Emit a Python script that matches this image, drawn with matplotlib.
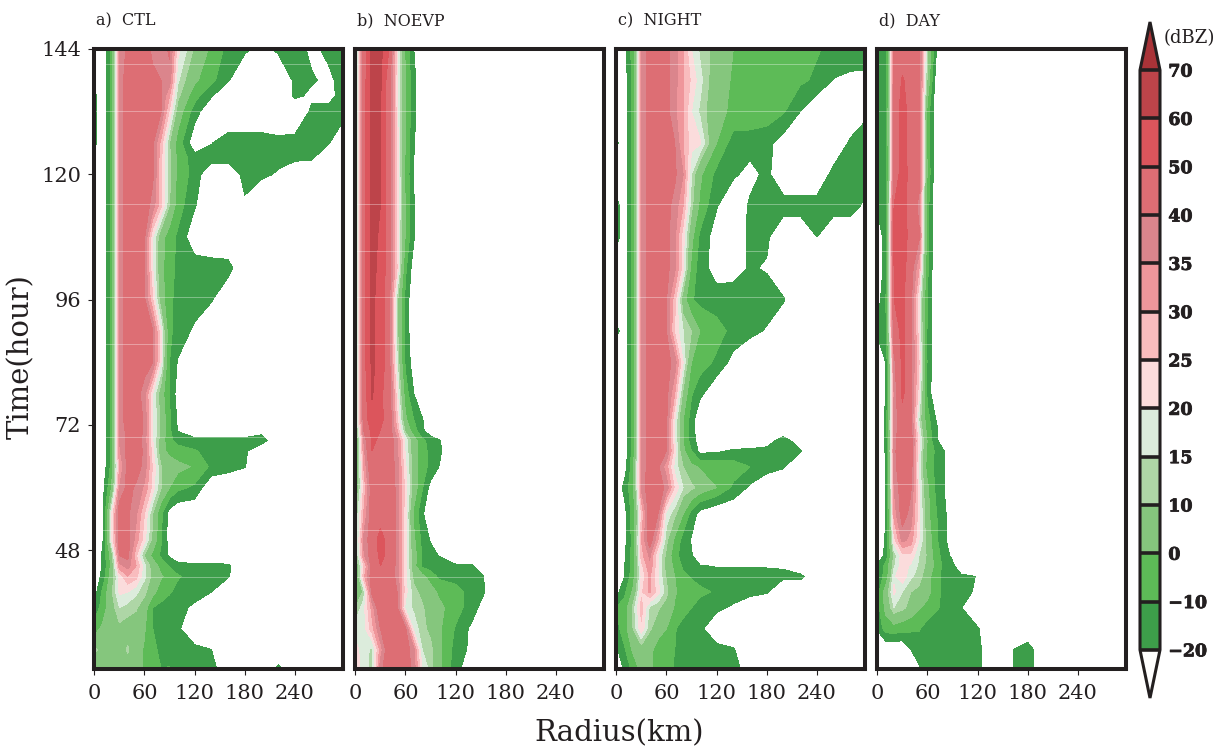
import numpy as np
import matplotlib
matplotlib.use('Agg')
import matplotlib.pyplot as plt
import matplotlib.patheffects as pe
from matplotlib.colors import ListedColormap, BoundaryNorm

W, H = 1222, 749

# dBZ, rows go up in time, short rows are empty further out
radius = [0, 10, 20, 30, 40, 50, 60, 70, 80, 90, 100, 120, 140, 160, 180, 200, 220, 240, 260, 280, 297]
hours = [25.2, 29, 33, 37, 40, 43, 45, 47, 50, 55, 60, 64, 67, 69, 71, 73, 78, 84, 90, 96, 102, 108, 114, 120, 126, 132, 138, 144]
ctl_hours = [25.2, 29, 33, 37, 40, 43, 45, 47, 50, 55, 60, 64, 67, 69, 71, 73, 78, 84, 90, 96, 102, 108, 114, 120, 123, 126, 132, 135, 138, 144]

ctl = [
    [4, 3, 6, -1, 6, 5, -2, -7, -10, -9, -14, -16, -18, -24, -30, -30, -17, -30],
    [12, 7, 5, 5, 11, 4, -1, -6, -14, -15, -16, -17, -20, -30],
    [-5, 2, 5, 8, 6, 5, 1, -10, -14, -15, -18, -30],
    [-18, -5, 6, 15, 13, 11, 5, -10, -13, -15, -17, -22, -30],
    [-25, -8, 8, 21, 20, 16, 12, 3, -5, -9, -13, -16, -20, -30],
    [-30, -16, 4, 22, 30, 27, 16, 8, 1, -3, -9, -14, -16, -19, -30],
    [-30, -19, 2, 33, 37, 30, 17, 6, -4, -11, -15, -17, -17, -18, -30],
    [-30, -18, 3, 40, 42, 26, 9, -3, -12, -22, -30],
    [-30, -22, 18, 43, 42, 33, 22, 8, -9, -25, -30],
    [-30, -22, 18, 44, 41, 36, 25, 10, -8, -25, -30],
    [-30, -24, -2, 35, 42, 39, 34, 23, 10, 0, -7, -12, -30],
    [-18, -28, -8, 30, 42, 43, 38, 24, 10, 6, 3, -1, -12, -16, -19.5, -30],
    [-18, -28, -8, 34, 42, 43, 39, 22, 4, -3, -6, -9, -14, -17, -18, -30],
    [-30, -28, -8, 35, 42, 43, 38, 20, 6, -8, -13, -16, -16, -16, -16, -15, -30],
    [-30, -28, -8, 36, 42, 44, 39, 20, 8, -8, -21, -30, -30, -30, -30, -24, -30],
    [-30, -28, -9, 37, 43, 44, 39, 20, 8, -8, -22, -30],
    [-30, -30, -9, 37, 43, 43, 37, 20, 5, -11, -25, -30],
    [-30, -30, -9, 37, 43, 44, 43, 40, 20, -10, -21, -30],
    [-30, -30, -9, 37, 43, 44, 44, 40, 20, -8, -14, -22, -30],
    [-30, -30, -9, 37, 43, 44, 41, 25, 5, -8, -13, -15, -19, -30],
    [-30, -30, -9, 37, 43, 44, 41, 20, 3, -7, -12, -14, -15, -16, -30],
    [-30, -30, -9, 37, 43, 44, 41, 20, 4, -5, -12, -28, -30],
    [-30, -30, -9, 37, 43, 43, 43, 38, 26, 10, -5, -19, -30, -30, -22, -30],
    [-25, -30, -9, 37, 43, 43, 43, 41, 26, 12, -3, -14, -30, -30, -16, -18, -21, -30],
    [-25, -30, -9, 37, 43, 43, 43, 41, 26, 12, -3, -15, -16, -16, -15, -17, -18, -18, -19, -30],
    [-16, -30, -9, 37, 43, 43, 43, 41, 28, 10, -4, -28, -20.5, -15, -15, -15, -17, -16, -16, -19, -30],
    [-16, -30, -9, 37, 43, 43, 43, 41, 40, 24, 6, -15, -30, -30, -30, -30, -30, -30, -18, -16, -15],
    [-16, -30, -9, 37, 43, 43, 43, 41, 40, 30, 12, -6, -19, -30, -30, -30, -30, -18, -22, -24, -16],
    [-30, -30, -9, 37, 43, 43, 42, 41, 40, 38, 16, 2, -7, -19, -30, -30, -30, -18, -19, -22, -17],
    [-30, -30, -9, 37, 41, 43, 42, 39, 37, 41, 22, 9, -2, -13, -18, -24, -18, -16, -22, -18, -17],
]

noevp = [
    [24, 17, 13, 38, 45, 46, 43, 38, 20, 13, 3, -16, -30],
    [22, 17, 14, 32, 45, 46, 44, 36, 15, 12, 3, -14, -23, -30],
    [18, 18, 28, 40, 46, 46, 41, 18, 12, 8, 2, -11, -23, -30],
    [10, 18, 32, 46, 46, 41, 18, 14, 11, 6, 3, -6, -15, -30],
    [-5, 12, 42, 46, 47, 40, 22, 12, 8, 5, -2, -6, -14, -22, -30],
    [-2, 28, 44, 47, 45, 38, 22, 8, 3, -5, -12, -14, -16, -22, -30],
    [2, 24, 43, 50, 46, 38, 22, 4, -12, -14, -15, -18, -19, -30],
    [6, 34, 44, 52, 48, 38, 22, 5, -11, -16, -20.5, -30],
    [8, 36, 44, 54, 46, 38, 22, 2, -13, -21, -30],
    [8, 30, 44, 45, 46, 38, 22, -2, -18, -30],
    [0, 26, 44, 45, 46, 38, 23, 6, -9, -24, -30],
    [-3, 30, 47, 45, 44, 38, 21, 6, -7, -12, -20, -30],
    [-5, 33, 50, 47, 45, 36, 19, 5, -7, -12, -18, -30],
    [-5, 35, 51, 49, 45, 36, 19, 5, -8, -13, -19, -30],
    [2, 40, 53, 50, 45, 30, 8, -6, -17, -30],
    [6, 43, 57, 52, 46, 26, 2, -10, -19, -30],
    [8, 44, 61, 52, 45, 22, -5, -20, -30],
    [6, 46, 62, 56, 44, 16, -12, -26, -30],
    [6, 47, 62, 56, 44, 12, -13, -30],
    [6, 47, 62, 56, 44, 12, -13, -30],
    [6, 47, 62, 58, 44, 25, -8, -26, -30],
    [6, 47, 62, 59, 45, 23, -1, -19, -30],
    [6, 47, 62, 60, 45, 24, -1, -19, -30],
    [6, 46, 62, 60, 45, 24, -2, -21, -30],
    [6, 46, 62, 60, 45, 23, -1, -19, -30],
    [6, 46, 62, 60, 45, 22, 0, -17, -30],
    [5, 45, 63, 62, 44, 22, 0, -17, -30],
    [5, 44, 63, 63, 50, 22, -2, -20, -30],
]

night = [
    [-30, -18, -7, 3, 3, -8, -7, -11, -14, -13, -15, -15, -17, -24, -30, -19, -30],
    [-22, -11, 2, 6, 4, -6, -5, -10, -14, -15, -16, -16, -19, -30],
    [-14, -4, 10, 24, 11, 6, 0, -9, -15, -15, -17, -30],
    [-10, -6, 12, 27, 14, 11, 7, -1, -5, -10, -14, -17, -22, -30],
    [-24, -12, 2, 24, 31, 22, 12, 1, -4, -6, -8, -11, -14, -16, -19, -30],
    [-30, -20, -4, 21, 31, 20, 9, 0, -8, -11, -13, -14, -15, -15, -16, -18, -17, -30],
    [-30, -20, -5, 23, 34, 20, 7, -3, -12, -16, -19, -21, -21, -21, -21, -21, -30],
    [-30, -22, -6, 28, 36, 20, 8, -7, -14, -19, -30],
    [-30, -23, -6, 30, 44, 30, 12, -2, -14, -21, -30],
    [-30, -24, -5, 25, 44, 40, 18, 12, 0, -14, -24, -30],
    [-30, -16, -3, 36, 44, 44, 38, 24, 15, 12, 7, 0, -12, -22, -30],
    [-30, -26, -3, 36, 43, 41, 32, 18, 10, 2, -1, -3, -5, -10, -15, -19, -30],
    [-30, -26, -6, 36, 43, 43, 40, 22, 2, -10, -23, -22, -18, -17, -16, -14, -19, -30],
    [-30, -26, -6, 36, 43, 43, 40, 20, 0, -15, -25, -30, -30, -30, -26, -14, -28, -30],
    [-30, -26, -6, 36, 43, 43, 40, 20, 0, -16, -27, -30],
    [-30, -26, -6, 36, 43, 43, 41, 20, 0, -15, -30],
    [-30, -26, -6, 36, 43, 43, 42, 30, 8, -9, -17, -30],
    [-30, -26, -6, 36, 43, 43, 42, 38, 20, 0, -5, -12, -24, -30],
    [-17, -26, -6, 36, 43, 43, 40, 24, 15, 10, 0, -6, -13, -17, -21, -30],
    [-30, -26, -6, 36, 43, 43, 40, 27, 5, -9, -13, -15, -15, -15, -15, -19, -30],
    [-30, -26, -6, 36, 43, 44, 42, 36, 22, -3, -15, -25, -24, -19, -21, -30],
    [-16, -26, -6, 36, 43, 44, 42, 36, 22, 3, -12, -26, -30, -17, -18, -30, -30, -20, -30],
    [-16, -26, -6, 36, 43, 44, 42, 38, 30, 12, -2, -19, -30, -18, -16, -15, -15, -15, -15, -15, -22],
    [-30, -26, -6, 36, 43, 44, 43, 41, 35, 15, 2, -13, -18, -24, -17, -30, -30, -30, -16, -15, -15],
    [-18, -26, -6, 36, 43, 44, 43, 40, 30, 22, 21, 0, -15, -15, -17, -25, -30, -30, -30, -18, -16],
    [-30, -26, -6, 36, 43, 44, 42, 36, 30, 20, 14, 3, -2, -3, -4, -9, -20, -30, -30, -30, -22],
    [-30, -26, -6, 36, 43, 44, 42, 37, 30, 24, 17, 4, -1, -2, -3, -5, -8, -12, -20.5, -22, -22],
    [-30, -24, -5, 36, 42, 44, 42, 37, 30, 20, 14, 7, 0, -2, -3, -4, -6, -9, -13, -15, -16],
]

day = [
    [-30, -30, -30, -30, -30, -21, -17, -19, -21, -17, -17, -17, -30, -21, -15, -30],
    [-30, -30, -30, -30, -20, -17, -15, -15, -16, -16, -16, -17, -30, -21, -15, -30],
    [-19, -5, -4, -6, -8, -9, -15, -17, -17, -17, -17, -19, -30],
    [-14, 3, 15, 12, 7, 1, -3, -8, -13, -16, -19.5, -30],
    [-14, 5, 21, 15, 10, 8, 3, -5, -14, -16, -18, -21, -30],
    [-16, -7, 19, 24, 16, 13, 5, -7, -13, -15, -17, -20.5, -30],
    [-18, -7, 14, 23, 19, 14, 8, -3, -13, -17, -30],
    [-30, -17, 12, 23, 24, 15, 9, -6, -14, -23, -30],
    [-30, -18, 23, 37, 33, 20, 7, -8, -17, -30],
    [-30, -22, 32, 43, 38, 22, 3, -9, -17, -30],
    [-30, -20, 35, 44, 41, 20, 2, -12, -20, -30],
    [-30, -20, 36, 50, 44, 18, -5, -12, -19, -30],
    [-30, -19, 37, 50, 44, 20, -2, -12, -20, -30],
    [-30, -19, 36, 48, 44, 22, -1, -18, -26, -30],
    [-30, -18, 36, 47, 43, 18, -4, -18, -26, -30],
    [-30, -18, 36, 46, 42, 14, -6, -20, -30],
    [-30, -20, 35, 52, 42, 22, -13, -30],
    [-30, -20, 38, 52, 42, 25, -12, -30],
    [-18, -13, 46, 52, 43, 22, -12, -30],
    [-25, -12, 50, 52, 42, 20, -10, -30],
    [-30, -15, 50, 54, 44, 30, -8, -30],
    [-30, -14, 52, 54, 47, 41, -6, -30],
    [-18, -16, 50, 54, 46, 38, -6, -30],
    [-17, -18, 44, 54, 47, 43, -2, -28, -30],
    [-16, -17, 44, 54, 46, 43, -3, -27, -30],
    [-16, -17, 44, 54, 46, 43, -4, -28, -30],
    [-16, -17, 42, 51, 46, 43, 8, -24, -30],
    [-16, -17, 42, 45, 46, 43, 12, -18, -30],
]

levels = [-20, -10, 0, 10, 15, 20, 25, 30, 35, 40, 50, 60, 70]
colors = ['#3d9e4a', '#5dbb57', '#85c67d', '#aed6a6', '#dcecdc', '#fbdcdc',
          '#f9bcbe', '#ef969b', '#db858c', '#dd6e74', '#dc555c', '#bd444a']
over_color = '#a93338'
titles = ['a)  CTL', 'b)  NOEVP', 'c)  NIGHT', 'd)  DAY']
panel_left = [94.3, 355.3, 616.3, 877.3]
xticks = [0, 60, 120, 180, 240]
yticks = [48, 72, 96, 120, 144]
# faint seams in the shading
seam_hours = [141.1, 132.1, 114.3, 105.3, 96.5, 87.5, 69.7, 60.7, 51.9, 42.9]

INK = '#231f20'
FONT = 'DejaVu Serif'


def px_rect(x, y, w, h):
    return [x / W, 1 - (y + h) / H, w / W, h / H]


def fill_rows(rows):
    grid = np.full((len(rows), len(radius)), -30.0)
    for i, row in enumerate(rows):
        grid[i, :len(row)] = row
    return grid


plt.rcParams['font.family'] = FONT
fig = plt.figure(figsize=(W / 100, H / 100), dpi=100)
cmap = ListedColormap(colors)
cmap.set_over(over_color)
cmap.set_under('white')
norm = BoundaryNorm(levels, cmap.N)

panels = [(ctl_hours, ctl), (hours, noevp), (hours, night), (hours, day)]
for i, (t, rows) in enumerate(panels):
    ax = fig.add_axes(px_rect(panel_left[i], 49, 248.3, 620.3))
    cf = ax.contourf(radius, t, fill_rows(rows), levels=levels, cmap=cmap, norm=norm, extend='both')
    ax.hlines(seam_hours, 0, 297, colors='white', lw=0.7, alpha=0.35)
    ax.set_xlim(0, 297)
    ax.set_ylim(25.2, 144)
    ax.set_xticks(xticks)
    ax.tick_params(axis='x', length=4.5, width=0.8, color=INK, labelsize=15, labelcolor=INK, pad=6)
    if i == 0:
        ax.set_yticks(yticks)
        ax.tick_params(axis='y', length=4.5, width=0.8, color=INK, labelsize=15, labelcolor=INK, pad=5)
    else:
        ax.set_yticks([])
    for s in ax.spines.values():
        s.set_linewidth(2.9)
        s.set_color(INK)
    fig.text((panel_left[i] + 2) / W, 1 - 25 / H, titles[i], fontsize=11.5, color=INK, va='baseline')

fig.text(619 / W, 1 - 733 / H, 'Radius(km)', fontsize=21, color=INK, ha='center', va='center')
fig.text(21 / W, 1 - 357 / H, 'Time(hour)', fontsize=21, color=INK, rotation=90, ha='center', va='center')

# the triangles sit inside the colorbar axes, so it spans apex to apex
cax = fig.add_axes(px_rect(1140, 22, 20, 676))
cb = fig.colorbar(cf, cax=cax, extend='both', extendfrac=0.083, drawedges=True, ticks=levels)
cb.outline.set_linewidth(2.2)
cb.outline.set_edgecolor(INK)
cb.dividers.set_linewidth(2.6)
cb.dividers.set_color(INK)
cb.ax.tick_params(length=0, pad=6)
cb.set_ticklabels([str(v).replace('-', '\u2212') for v in levels], fontsize=12.5, fontweight='bold', color=INK)
for lab in cb.ax.get_yticklabels():
    lab.set_path_effects([pe.withStroke(linewidth=0.6, foreground=INK)])
fig.text(1164 / W, 1 - 38 / H, '(dBZ)', fontsize=13, color=INK, va='center')

fig.savefig('out.png', dpi=100)
